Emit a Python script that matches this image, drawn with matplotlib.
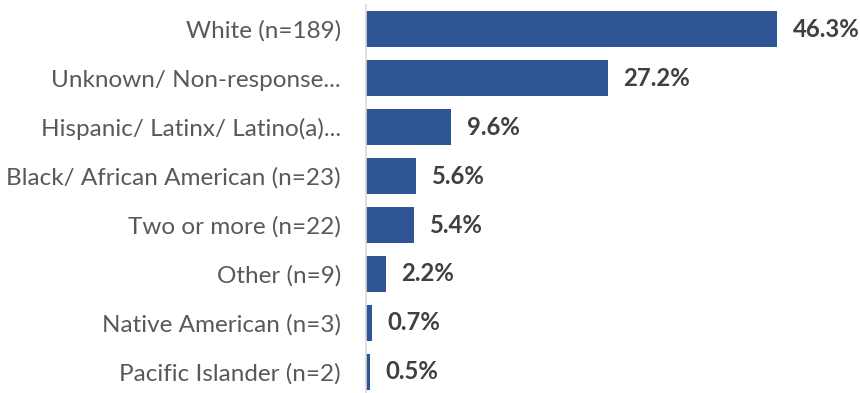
import matplotlib.pyplot as plt

categorias = ["White (n=189)", "Unknown/ Non-response...", "Hispanic/ Latinx/ Latino(a)...",
              "Black/ African American (n=23)", "Two or more (n=22)", "Other (n=9)",
              "Native American (n=3)", "Pacific Islander (n=2)"]
valores = [46.3, 27.2, 9.6, 5.6, 5.4, 2.2, 0.7, 0.5]
rotulos = ["46.3%", "27.2%", "9.6%", "5.6%", "5.4%", "2.2%", "0.7%", "0.5%"]

plt.rcParams['font.family'] = ['Lato', 'DejaVu Sans']

fig = plt.figure(figsize=(8.6, 3.93), dpi=100)
ax = fig.add_axes([0.4256, 0.0, 0.5744, 0.987])

posicoes = list(range(len(categorias)))
ax.barh(posicoes, valores, height=0.73, color="#2F5597")

for p, v, r in zip(posicoes, valores, rotulos):
    ax.annotate(r, (v, p), xytext=(11, 0), textcoords="offset points",
                va="center", ha="left", fontsize=17.2, fontweight="bold", color="#404040")

ax.set_xlim(0, 55.6)
ax.set_ylim(7.43, -0.49)
ax.set_yticks(posicoes)
ax.set_yticklabels(categorias, fontsize=17.5, color="#595959")
ax.tick_params(axis="y", length=0, pad=18)
ax.set_xticks([])
for lado in ["top", "right", "bottom"]:
    ax.spines[lado].set_visible(False)
ax.spines["left"].set_color("#D9D9D9")
ax.spines["left"].set_linewidth(1.2)

fig.savefig("out.png", dpi=100)
